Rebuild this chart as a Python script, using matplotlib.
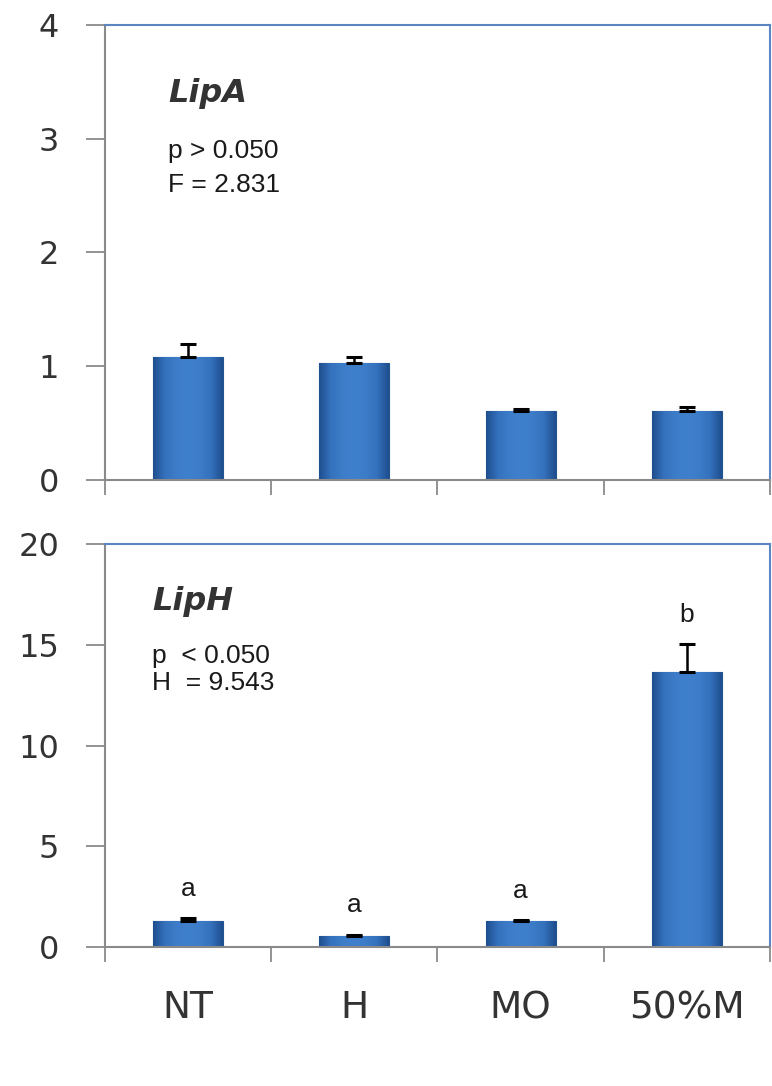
"""
LipA / LipH relative expression, two stacked bar panels.
"""
import matplotlib
matplotlib.use('Agg')

import numpy as np
import matplotlib.pyplot as plt
from matplotlib.colors import LinearSegmentedColormap

# --- data ---
groups = ['NT', 'H', 'MO', '50%M']

lipa_mean = [1.08, 1.03, 0.61, 0.61]
lipa_err = [0.12, 0.05, 0.01, 0.03]

liph_mean = [1.30, 0.55, 1.30, 13.65]
liph_err = [0.12, 0.06, 0.02, 1.40]
liph_letters = ['a', 'a', 'a', 'b']

lipa_stats = ['p > 0.050', 'F = 2.831']
liph_stats = ['p  < 0.050', 'H  = 9.543']

GRAY = '#8a8a8a'
FRAME = '#5b86c2'
TICK_TXT = '#333333'
bar_cmap = LinearSegmentedColormap.from_list(
    'bar', ['#1f4f8f', '#3572bd', '#3d7cc8', '#3f80cc', '#3d7cc8', '#3572bd', '#1f4f8f'])


def draw_panel(ax, means, errs, ymax, yticks, title, stats, title_y, stat_y, tx):
    x = np.arange(len(groups))
    bars = ax.bar(x, means, width=0.42, color='#3a78c4',
                  edgecolor='#22558f', linewidth=0.8, zorder=2)
    # horizontal gradient inside each bar
    grad = np.linspace(0, 1, 64).reshape(1, -1)
    for b in bars:
        x0, y0 = b.get_x(), b.get_y()
        im = ax.imshow(grad, cmap=bar_cmap, aspect='auto', zorder=2.5,
                       extent=[x0, x0 + b.get_width(), y0, y0 + b.get_height()])
        im.set_clip_path(b)
    ax.errorbar(x, means, yerr=[np.zeros(len(errs)), errs], fmt='none',
                ecolor='black', elinewidth=1.8, capsize=5.5, capthick=2.2,
                zorder=3)

    ax.set_xlim(-0.5, len(groups) - 0.5)
    ax.set_ylim(0, ymax)
    ax.set_yticks(yticks)
    ax.set_yticklabels([str(t) for t in yticks], fontsize=23, color=TICK_TXT)
    ax.tick_params(axis='y', direction='out', length=14, width=1.3,
                   color=GRAY, pad=19)

    ax.set_xticks(x)
    ax.set_xticks(np.arange(-0.5, len(groups)), minor=True)
    ax.tick_params(axis='x', which='major', length=0)
    ax.tick_params(axis='x', which='minor', direction='out', length=11,
                   width=1.3, color=GRAY)

    for side in ['left', 'bottom']:
        ax.spines[side].set_color(GRAY)
        ax.spines[side].set_linewidth(1.5)
    for side in ['top', 'right']:
        ax.spines[side].set_color(FRAME)
        ax.spines[side].set_linewidth(1.5)

    ax.text(tx, title_y, title, transform=ax.transAxes, fontsize=23,
            fontweight='bold', fontstyle='italic', color='#333333',
            family='DejaVu Sans', va='baseline')
    for s, yy in zip(stats, stat_y):
        ax.text(tx, yy, s, transform=ax.transAxes, fontsize=19,
                color='#1a1a1a', family='Liberation Sans', va='baseline')


fig = plt.figure(figsize=(7.72, 10.86), dpi=100)
ax1 = fig.add_axes([0.1360, 0.558, 0.8614, 0.419])
ax2 = fig.add_axes([0.1360, 0.128, 0.8614, 0.371])

draw_panel(ax1, lipa_mean, lipa_err, 4, [0, 1, 2, 3, 4], 'LipA',
           lipa_stats, 0.831, [0.708, 0.633], 0.095)
ax1.set_xticklabels([])

draw_panel(ax2, liph_mean, liph_err, 20, [0, 5, 10, 15, 20], 'LipH',
           liph_stats, 0.836, [0.705, 0.638], 0.071)
ax2.set_xticklabels(groups, fontsize=27, color=TICK_TXT)
ax2.tick_params(axis='x', which='major', pad=31)

for i, lab in enumerate(liph_letters):
    ax2.annotate(lab, (i, liph_mean[i] + liph_err[i]), xytext=(0, 16),
                 textcoords='offset points', ha='center', va='baseline',
                 fontsize=19, family='Liberation Sans', color='#1a1a1a')

fig.savefig('out.png', dpi=100)
plt.close(fig)
